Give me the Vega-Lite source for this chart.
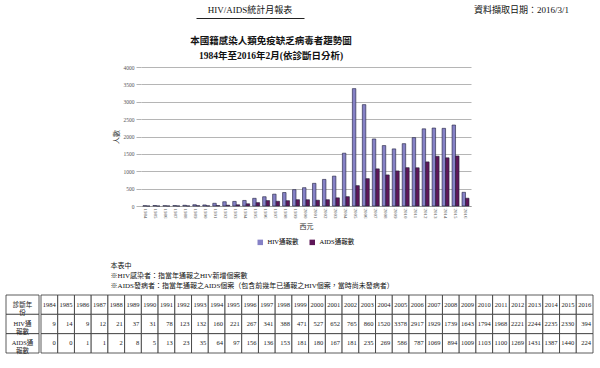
{
  "$schema": "https://vega.github.io/schema/vega-lite/v6.json",
  "background": "white",
  "padding": {"left": 5, "top": 6, "right": 5, "bottom": 4},
  "center": false,
  "spacing": 15,
  "resolve": {"legend": {"color": "independent"}, "scale": {"color": "independent"}},
  "config": {
    "font": "Liberation Serif, Noto Sans CJK TC",
    "view": {"stroke": null},
    "title": {"font": "Liberation Serif, Noto Sans CJK TC", "color": "#111", "fontWeight": "normal"},
    "axis": {"labelFont": "Liberation Serif", "titleFont": "Liberation Serif, Noto Sans CJK TC", "labelColor": "#555", "titleColor": "#333", "titleFontWeight": "normal"},
    "legend": {"labelFont": "Liberation Serif, Noto Sans CJK TC", "layout": {"bottom": {"anchor": "middle"}}}
  },
  "datasets": {
    "d": [
      {"year": "1984", "hiv": 9, "aids": 0},
      {"year": "1985", "hiv": 14, "aids": 0},
      {"year": "1986", "hiv": 9, "aids": 1},
      {"year": "1987", "hiv": 12, "aids": 1},
      {"year": "1988", "hiv": 21, "aids": 2},
      {"year": "1989", "hiv": 37, "aids": 8},
      {"year": "1990", "hiv": 31, "aids": 5},
      {"year": "1991", "hiv": 78, "aids": 13},
      {"year": "1992", "hiv": 123, "aids": 23},
      {"year": "1993", "hiv": 132, "aids": 35},
      {"year": "1994", "hiv": 160, "aids": 64},
      {"year": "1995", "hiv": 221, "aids": 97},
      {"year": "1996", "hiv": 267, "aids": 156},
      {"year": "1997", "hiv": 341, "aids": 136},
      {"year": "1998", "hiv": 388, "aids": 153},
      {"year": "1999", "hiv": 471, "aids": 181},
      {"year": "2000", "hiv": 527, "aids": 180},
      {"year": "2001", "hiv": 652, "aids": 167},
      {"year": "2002", "hiv": 765, "aids": 181},
      {"year": "2003", "hiv": 860, "aids": 235},
      {"year": "2004", "hiv": 1520, "aids": 269},
      {"year": "2005", "hiv": 3378, "aids": 586},
      {"year": "2006", "hiv": 2917, "aids": 787},
      {"year": "2007", "hiv": 1929, "aids": 1069},
      {"year": "2008", "hiv": 1739, "aids": 894},
      {"year": "2009", "hiv": 1643, "aids": 1009},
      {"year": "2010", "hiv": 1794, "aids": 1103},
      {"year": "2011", "hiv": 1968, "aids": 1100},
      {"year": "2012", "hiv": 2221, "aids": 1269},
      {"year": "2013", "hiv": 2244, "aids": 1431},
      {"year": "2014", "hiv": 2235, "aids": 1387},
      {"year": "2015", "hiv": 2330, "aids": 1440},
      {"year": "2016", "hiv": 394, "aids": 224}
    ],
    "lab": [
      {"row": "year", "label": "診斷年\n份"},
      {"row": "hiv", "label": "HIV通\n報數"},
      {"row": "aids", "label": "AIDS通\n報數"}
    ]
  },
  "vconcat": [
    {
      "spacing": 17,
      "resolve": {"legend": {"color": "independent"}, "scale": {"color": "independent"}},
      "vconcat": [
        {
          "spacing": 0,
          "hconcat": [
            {
              "width": 190, "height": 2,
              "data": {"values": []},
              "mark": "text",
              "encoding": {}
            },
            {
              "width": 108, "height": 2,
              "title": {"text": "HIV/AIDS統計月報表", "fontSize": 9, "anchor": "middle", "offset": 1},
              "data": {"values": []},
              "mark": "text",
              "encoding": {
                "x": {"field": "v", "type": "quantitative", "scale": {"domain": [0, 1]}, "axis": {"labels": false, "ticks": false, "grid": false, "title": null, "domainColor": "#222", "domainWidth": 1}}
              }
            },
            {
              "width": 282, "height": 2,
              "title": {"text": "資料擷取日期：2016/3/1", "fontSize": 9, "anchor": "end", "dx": -17, "offset": 1},
              "data": {"values": []},
              "mark": "text",
              "encoding": {}
            }
          ]
        },
        {
          "spacing": 0,
          "resolve": {"legend": {"color": "independent"}, "scale": {"color": "independent"}},
          "hconcat": [
            {
              "width": 106, "height": 1,
              "data": {"values": []},
              "mark": "text",
              "encoding": {}
            },
            {
              "width": 330,
              "height": 139,
              "title": {"text": ["本國籍感染人類免疫缺乏病毒者趨勢圖", "1984年至2016年2月(依診斷日分析)"], "fontSize": 9.5, "fontWeight": "bold", "anchor": "middle", "dx": -35, "offset": 5, "lineHeight": 15},
              "data": {"name": "d"},
              "transform": [{"fold": ["hiv", "aids"], "as": ["key", "value"]}],
              "mark": {"type": "bar", "stroke": "#1e1e3c", "strokeWidth": 0.6},
              "encoding": {
                "x": {
                  "field": "year", "type": "ordinal",
                  "scale": {"paddingInner": 0.3, "paddingOuter": 0.2},
                  "axis": {"title": "西元", "labelAngle": 90, "labelFontSize": 5, "labelPadding": 2, "ticks": false, "domainColor": "#999", "titleFontSize": 7, "titlePadding": 4}
                },
                "xOffset": {"field": "key", "sort": ["hiv", "aids"]},
                "y": {
                  "field": "value", "type": "quantitative",
                  "scale": {"domain": [0, 4000]},
                  "axis": {"values": [0, 500, 1000, 1500, 2000, 2500, 3000, 3500, 4000], "format": "d", "title": "人數", "labelFontSize": 5.5, "titleFontSize": 7, "domain": false, "gridColor": "#b5b5b5", "tickColor": "#b5b5b5", "tickSize": 5, "labelPadding": 2, "titlePadding": 4}
                },
                "color": {
                  "field": "key", "type": "nominal",
                  "scale": {"domain": ["hiv", "aids"], "range": ["#8581c6", "#5e1758"]},
                  "legend": {"orient": "bottom", "direction": "horizontal", "title": null, "labelExpr": "datum.value == 'hiv' ? 'HIV通報數' : 'AIDS通報數'", "labelFontSize": 6.5, "symbolType": "square", "symbolSize": 30, "symbolStrokeWidth": 0, "columnPadding": 10, "offset": 10}
                }
              }
            }
          ]
        }
      ]
    },
    {
      "title": {"text": ["本表中", "※HIV感染者：指當年通報之HIV新增個案數", "※AIDS發病者：指當年通報之AIDS個案（包含前幾年已通報之HIV個案，當時尚未發病者）"], "fontSize": 7, "anchor": "start", "dx": 105, "lineHeight": 10, "offset": 6},
      "spacing": 0,
      "hconcat": [
        {
          "width": 33, "height": 58,
          "data": {"name": "lab"},
          "encoding": {
            "y": {"field": "row", "type": "nominal", "sort": ["year", "hiv", "aids"], "axis": null, "scale": {"paddingInner": 0, "paddingOuter": 0}}
          },
          "layer": [
            {"mark": {"type": "rect", "fill": "white", "stroke": "#333", "strokeWidth": 0.8}},
            {"mark": {"type": "text", "fontSize": 6.5, "lineBreak": "\n", "lineHeight": 8, "font": "Liberation Serif, Noto Sans CJK TC", "color": "#222"}, "encoding": {"text": {"field": "label"}}}
          ]
        },
        {
          "width": 552, "height": 58,
          "data": {"name": "d"},
          "transform": [{"fold": ["year", "hiv", "aids"], "as": ["row", "val"]}],
          "encoding": {
            "x": {"field": "year", "type": "ordinal", "axis": null, "scale": {"paddingInner": 0, "paddingOuter": 0}},
            "y": {"field": "row", "type": "nominal", "sort": ["year", "hiv", "aids"], "axis": null, "scale": {"paddingInner": 0, "paddingOuter": 0}}
          },
          "layer": [
            {"mark": {"type": "rect", "fill": "white", "stroke": "#333", "strokeWidth": 0.8}},
            {"transform": [{"filter": "datum.row == 'year'"}], "mark": {"type": "text", "fontSize": 6.5, "color": "#222"}, "encoding": {"text": {"field": "val", "type": "nominal"}}},
            {"transform": [{"filter": "datum.row != 'year'"}], "mark": {"type": "text", "fontSize": 6.5, "align": "right", "dx": -2, "color": "#222"}, "encoding": {"x": {"field": "year", "type": "ordinal", "bandPosition": 1}, "text": {"field": "val", "type": "nominal"}}}
          ]
        }
      ]
    }
  ]
}
